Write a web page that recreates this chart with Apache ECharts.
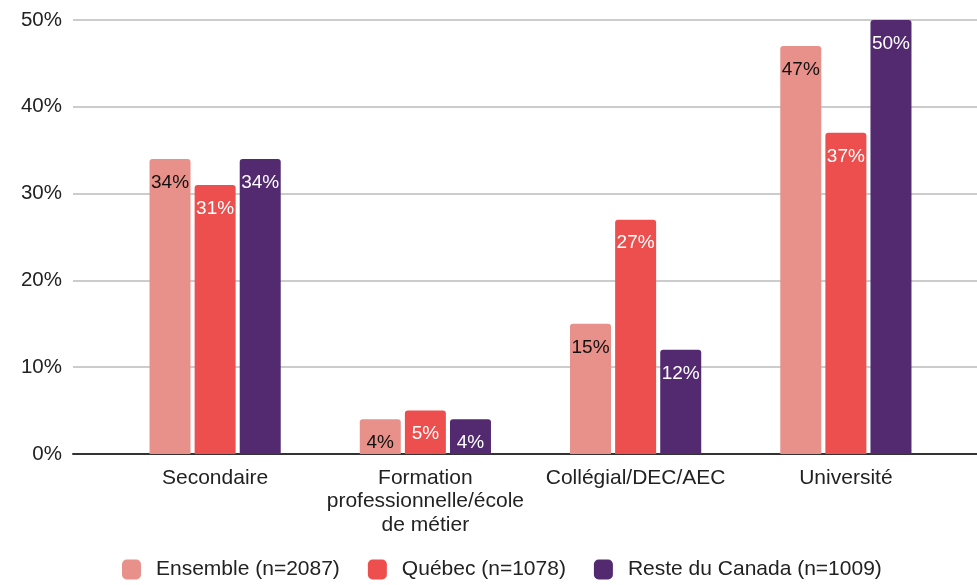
<!DOCTYPE html>
<html>
<head>
<meta charset="utf-8">
<script src="https://cdn.jsdelivr.net/npm/echarts@6/dist/echarts.min.js"></script>
<style>
  html, body { margin: 0; padding: 0; background: #fff; }
  #chart { width: 977px; height: 585px; }
</style>
</head>
<body>
<div id="chart"></div>
<script>
var categories = ['Secondaire', 'Formation\nprofessionnelle/école\nde métier', 'Collégial/DEC/AEC', 'Université'];
var seriesNames = ['Ensemble (n=2087)', 'Québec (n=1078)', 'Reste du Canada (n=1009)'];
var ensemble = [34, 4, 15, 47];
var quebec = [31, 5, 27, 37];
var reste = [34, 4, 12, 50];
var yTicks = [0, 10, 20, 30, 40, 50];

var colors = ['#E8908A', '#EC4F4D', '#532A70'];
var labelColors = ['#111', '#fff', '#fff'];
var font = '"Liberation Sans", Arial, sans-serif';

function makeSeries(idx, data) {
    return {
        name: seriesNames[idx],
        type: 'bar',
        xAxisIndex: 1,
        yAxisIndex: 1,
        barWidth: 41,
        barGap: '10%',
        data: data,
        itemStyle: { color: colors[idx], borderRadius: [3, 3, 0, 0] },
        label: {
            show: true,
            position: 'insideTop',
            distance: 14,
            formatter: '{c}%',
            color: labelColors[idx],
            fontFamily: font,
            fontSize: 19,
            textBorderColor: colors[idx],
            textBorderWidth: 2
        }
    };
}

var chart = echarts.init(document.getElementById('chart'));
var option = {
    animation: false,
    textStyle: { fontFamily: font },
    grid: [
        { left: 73, right: 0, top: 20, bottom: 131 },
        { left: 110, right: 26, top: 20, bottom: 131 }
    ],
    legend: {
        left: 122,
        top: 559,
        padding: 0,
        itemWidth: 19,
        itemHeight: 20,
        itemGap: 28,
        icon: 'roundRect',
        textStyle: { fontSize: 21, color: '#222', fontFamily: font, padding: [0, 0, 0, 10] },
        data: seriesNames
    },
    xAxis: [
        {
            gridIndex: 0, type: 'value', min: 0, max: 1,
            axisLine: { show: true, lineStyle: { color: '#333', width: 2 } },
            axisTick: { show: false }, axisLabel: { show: false }, splitLine: { show: false }
        },
        {
            gridIndex: 1, type: 'category', data: categories,
            axisLine: { show: false }, axisTick: { show: false },
            axisLabel: { interval: 0, fontSize: 21, color: '#222', margin: 12, lineHeight: 23.5, fontFamily: font }
        }
    ],
    yAxis: [
        {
            gridIndex: 0, type: 'value', min: yTicks[0], max: yTicks[yTicks.length - 1], interval: 10,
            axisLine: { show: false }, axisTick: { show: false },
            axisLabel: { formatter: '{value}%', fontSize: 20.5, color: '#222', margin: 11, fontFamily: font },
            splitLine: { lineStyle: { color: '#cccccc', width: 2 } }
        },
        {
            gridIndex: 1, type: 'value', min: yTicks[0], max: yTicks[yTicks.length - 1], interval: 10,
            show: false
        }
    ],
    series: [
        makeSeries(0, ensemble),
        makeSeries(1, quebec),
        makeSeries(2, reste)
    ]
};
chart.setOption(option);
</script>
</body>
</html>
